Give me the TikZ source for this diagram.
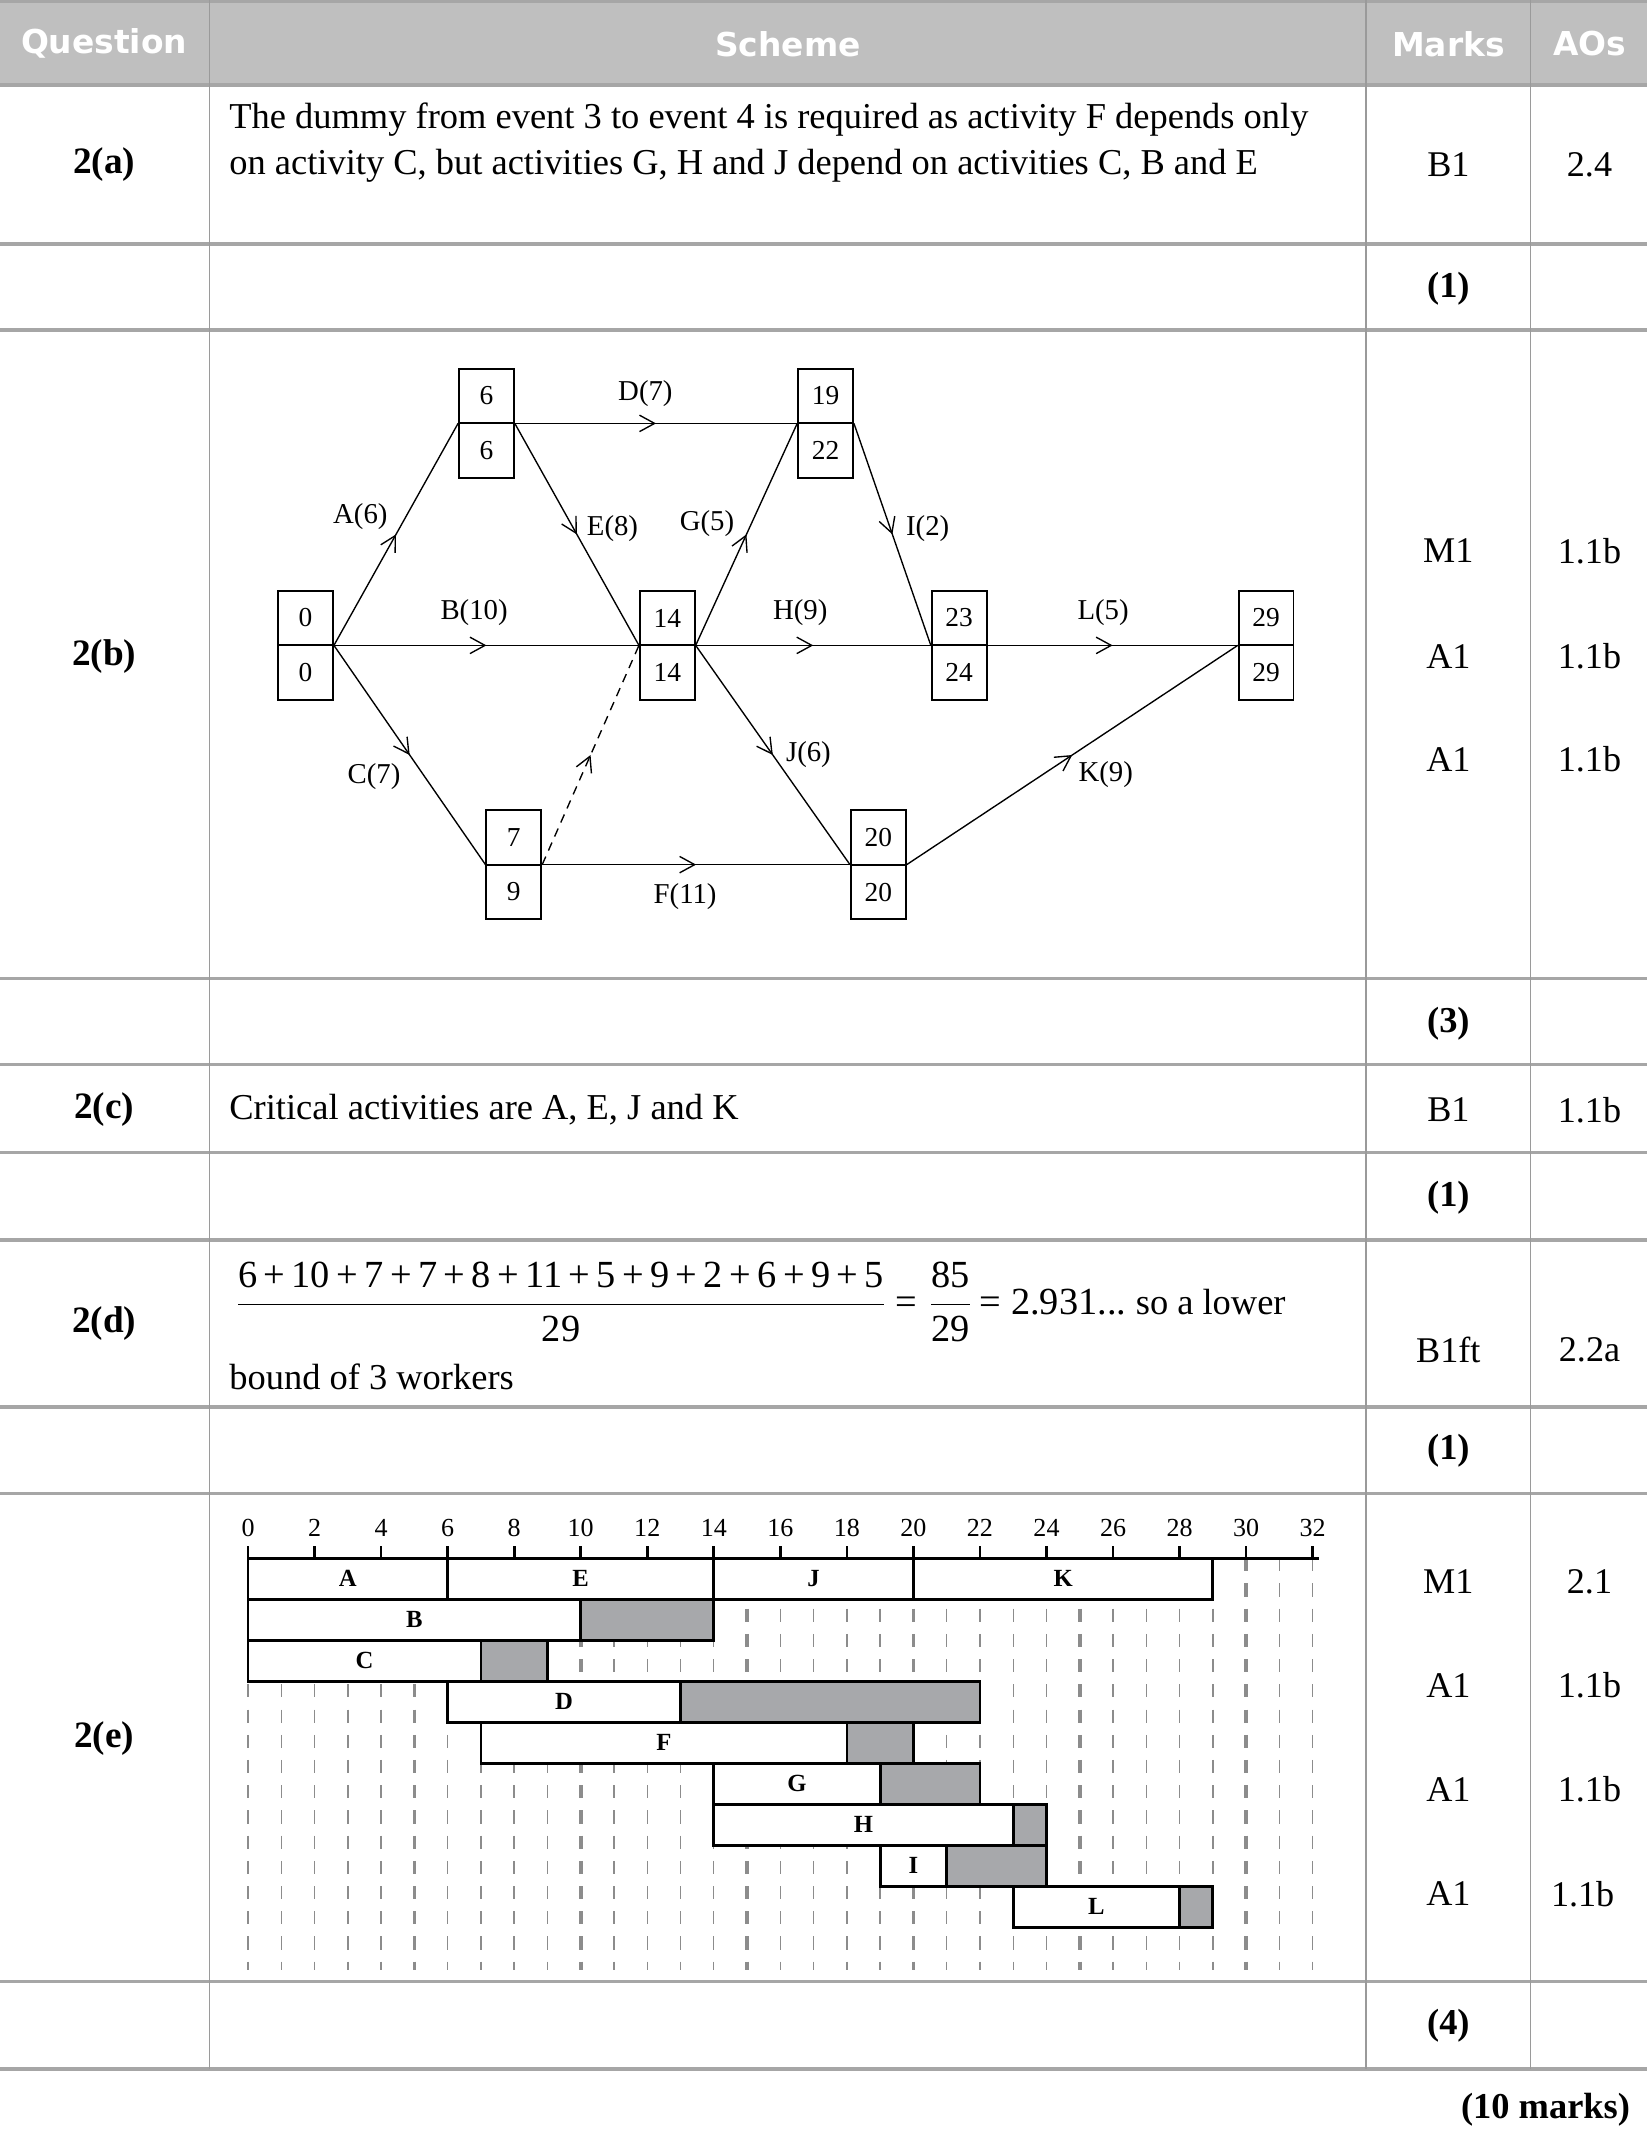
\documentclass[tikz,border=0pt]{standalone}
\usepackage{fontspec}
\setmainfont{Liberation Serif}
\newfontfamily\hdrfont{DejaVu Sans}
\usetikzlibrary{arrows.meta,decorations.markings}
\definecolor{hdrgrey}{HTML}{BFBFBF}
\definecolor{sepgrey}{HTML}{A6A6A6}
\definecolor{vgrey}{HTML}{9A9A9A}
\definecolor{floatgrey}{HTML}{A7A8AB}
\definecolor{gridgrey}{HTML}{8C8C8C}
\newcommand\evnode[5]{%
  \node[evbox] (#1) at (#2,#3) {};
  \draw[line width=0.7pt] (#1.west) -- (#1.east);
  \node[evnum] (#1t) at (#2,#3-20) {#4};
  \node[evnum] (#1b) at (#2,#3+20) {#5};}
\begin{document}
\begin{tikzpicture}[x=0.5pt,y=-0.5pt,
  hdr/.style={font=\hdrfont\bfseries\fontsize{12}{14}\selectfont, text=white, inner sep=0},
  body/.style={font=\fontsize{13.3}{17}\selectfont, anchor=west, inner sep=0, align=left},
  qlab/.style={font=\bfseries\fontsize{13.6}{15}\selectfont, inner sep=0},
  mk/.style={font=\fontsize{13.2}{15}\selectfont, inner sep=0},
  tot/.style={font=\bfseries\fontsize{13.3}{15}\selectfont, inner sep=0},
  sep/.style={draw=sepgrey, line width=1.3pt},
  vsep/.style={draw=vgrey, line width=0.6pt},
  evbox/.style={draw, line width=0.7pt, minimum width=20pt, minimum height=40pt, inner sep=0},
  evnum/.style={font=\fontsize{10}{12}\selectfont, inner sep=0},
  act/.style={line width=0.5pt, postaction={decorate},
    decoration={markings, mark=at position 0.5 with {\arrow{Straight Barb[length=5.5pt,width=6pt,line width=0.5pt]}}}},
  alab/.style={font=\fontsize{10.5}{12}\selectfont, inner sep=0},
  gridthin/.style={draw=gridgrey, line width=0.5pt, dash pattern=on 4.8pt off 4.4pt},
  gridthick/.style={draw=gridgrey, line width=1.3pt, dash pattern=on 4.8pt off 4.4pt},
  barst/.style={draw=black, line width=1pt},
  blab/.style={font=\bfseries\fontsize{9}{10}\selectfont, inner sep=0},
  ticklab/.style={font=\fontsize{9.5}{11}\selectfont, inner sep=0},
  axisst/.style={draw=black, line width=1pt}]
\useasboundingbox (0,0) rectangle (1202,1567.6);
% ---------- header ----------
\fill[hdrgrey] (0,0) rectangle (1202,62);
\draw[sep] (0,0.6) -- (1202,0.6);
\node[hdr] (hq) at (76,32) {Question};
\node[hdr] (hs) at (575,32) {Scheme};
\node[hdr] (hm) at (1057,32) {Marks};
\node[hdr] (ha) at (1160,32) {AOs};
% ---------- grid lines ----------
\foreach \yy in {62,178,241,714,777,841,905,1027,1090,1446,1510}
  \draw[sep] (0,\yy) -- (1202,\yy);
\foreach \xx in {153,997,1117}
  \draw[vsep] (\xx,0) -- (\xx,1510);
% ---------- 2(a) ----------
\node[qlab] (qa) at (76,120) {2(a)};
\node[body] (ta) at (167,104) {The dummy from event 3 to event 4 is required as activity F depends only\\on activity C, but activities G, H and J depend on activities C, B and E};
\node[mk] (ma) at (1057,120) {B1};
\node[mk] (aa) at (1160,120) {2.4};
\node[tot] (sa) at (1057,211) {(1)};
% ---------- 2(b) ----------
\node[qlab] (qb) at (76,479) {2(b)};
\node[mk] (mb1) at (1057,402) {M1};
\node[mk] (ab1) at (1160,402) {1.1b};
\node[mk] (mb2) at (1057,479) {A1};
\node[mk] (ab2) at (1160,479) {1.1b};
\node[mk] (mb3) at (1057,554) {A1};
\node[mk] (ab3) at (1160,554) {1.1b};
\node[tot] (sb) at (1057,747) {(3)};
% network
\evnode{n0}{223}{471}{0}{0}
\evnode{n6}{355}{309}{6}{6}
\evnode{n19}{602.5}{309}{19}{22}
\evnode{n14}{487}{471}{14}{14}
\evnode{n23}{700}{471}{23}{24}
\evnode{n29}{924}{471}{29}{29}
\evnode{n7}{375}{631}{7}{9}
\evnode{n20}{641}{631}{20}{20}
\draw[act] (n0.east) -- (n6.west);
\draw[act] (n0.east) -- (n14.west);
\draw[act] (n0.east) -- (n7.west);
\draw[act] (n6.east) -- (n19.west);
\draw[act] (n6.east) -- (n14.west);
\draw[act, dash pattern=on 3.2pt off 2.4pt] (n7.east) -- (n14.west);
\draw[act] (n7.east) -- (n20.west);
\draw[act] (n14.east) -- (n19.west);
\draw[act] (n14.east) -- (n23.west);
\draw[act] (n14.east) -- (n20.west);
\draw[act] (n19.east) -- (n23.west);
\draw[act] (n23.east) -- (n29.west);
\draw[act] (n20.east) -- (n29.west);
\node[alab] (lA) at (263,377) {A(6)};
\node[alab] (lB) at (346,447) {B(10)};
\node[alab] (lC) at (273,567) {C(7)};
\node[alab] (lD) at (471,287) {D(7)};
\node[alab] (lE) at (447,386) {E(8)};
\node[alab] (lF) at (500,654) {F(11)};
\node[alab] (lG) at (516,382) {G(5)};
\node[alab] (lH) at (584,447) {H(9)};
\node[alab] (lI) at (677,386) {I(2)};
\node[alab] (lJ) at (590,551) {J(6)};
\node[alab] (lK) at (807,565) {K(9)};
\node[alab] (lL) at (805,447) {L(5)};
% ---------- 2(c) ----------
\node[qlab] (qc) at (76,810) {2(c)};
\node[body] (tc) at (167,810) {Critical activities are A, E, J and K};
\node[mk] (mc) at (1057,810) {B1};
\node[mk] (ac) at (1160,810) {1.1b};
\node[tot] (sc) at (1057,874) {(1)};
% ---------- 2(d) ----------
\node[qlab] (qd) at (76,966) {2(d)};
\node[body] (td) at (171,950) {\fontsize{14}{16}\selectfont $\displaystyle\frac{\mbox{6\,+\,10\,+\,7\,+\,7\,+\,8\,+\,11\,+\,5\,+\,9\,+\,2\,+\,6\,+\,9\,+\,5}}{\mbox{29}}\mbox{\hspace{3pt}=\hspace{4pt}}\frac{\mbox{85}}{\mbox{29}}\mbox{\hspace{2.5pt}=\hspace{3.5pt}2.931...\ }\mbox{\fontsize{13.3}{15}\selectfont so a lower}$};
\node[body] (td2) at (167,1005) {bound of 3 workers};
\node[mk] (md) at (1057,985) {B1ft};
\node[mk] (ad) at (1160,985) {2.2a};
\node[tot] (sd) at (1057,1059) {(1)};
% ---------- 2(e) ----------
\node[qlab] (qe) at (76,1269) {2(e)};
\node[mk] (me1) at (1057,1154) {M1};
\node[mk] (ae1) at (1160,1154) {2.1};
\node[mk] (me2) at (1057,1230) {A1};
\node[mk] (ae2) at (1160,1230) {1.1b};
\node[mk] (me3) at (1057,1306) {A1};
\node[mk] (ae3) at (1160,1306) {1.1b};
\node[mk] (me4) at (1057,1382) {A1};
\node[mk] (ae4) at (1155,1382) {1.1b};
\node[tot] (se) at (1057,1478) {(4)};
\node[tot, anchor=east] (tm) at (1190,1540) {(10 marks)};
% Gantt chart
\begin{scope}[shift={(181,1137.2)}, x=12.14pt, y=-14.965pt]
  \foreach \t in {0,...,32}{
    \pgfmathtruncatemacro\m{mod(\t,5)}
    \ifnum\t>0 \ifnum\m=0
      \draw[gridthick] (\t,0) -- (\t,10.05);
    \else
      \draw[gridthin] (\t,0) -- (\t,10.05);
    \fi\else
      \draw[gridthin] (\t,0) -- (\t,10.05);
    \fi}
  % row 1
  \filldraw[barst, fill=white] (0,0) rectangle (6,1);
  \filldraw[barst, fill=white] (6,0) rectangle (14,1);
  \filldraw[barst, fill=white] (14,0) rectangle (20,1);
  \filldraw[barst, fill=white] (20,0) rectangle (29,1);
  \node[blab] (bA) at (3,0.5) {A};
  \node[blab] (bE) at (10,0.5) {E};
  \node[blab] (bJ) at (17,0.5) {J};
  \node[blab] (bK) at (24.5,0.5) {K};
  % row 2
  \filldraw[barst, fill=white] (0,1) rectangle (10,2);
  \filldraw[barst, fill=floatgrey] (10,1) rectangle (14,2);
  \node[blab] (bB) at (5,1.5) {B};
  % row 3
  \filldraw[barst, fill=white] (0,2) rectangle (7,3);
  \filldraw[barst, fill=floatgrey] (7,2) rectangle (9,3);
  \node[blab] (bC) at (3.5,2.5) {C};
  % row 4
  \filldraw[barst, fill=white] (6,3) rectangle (13,4);
  \filldraw[barst, fill=floatgrey] (13,3) rectangle (22,4);
  \node[blab] (bD) at (9.5,3.5) {D};
  % row 5
  \filldraw[barst, fill=white] (7,4) rectangle (18,5);
  \filldraw[barst, fill=floatgrey] (18,4) rectangle (20,5);
  \node[blab] (bF) at (12.5,4.5) {F};
  % row 6
  \filldraw[barst, fill=white] (14,5) rectangle (19,6);
  \filldraw[barst, fill=floatgrey] (19,5) rectangle (22,6);
  \node[blab] (bG) at (16.5,5.5) {G};
  % row 7
  \filldraw[barst, fill=white] (14,6) rectangle (23,7);
  \filldraw[barst, fill=floatgrey] (23,6) rectangle (24,7);
  \node[blab] (bH) at (18.5,6.5) {H};
  % row 8
  \filldraw[barst, fill=white] (19,7) rectangle (21,8);
  \filldraw[barst, fill=floatgrey] (21,7) rectangle (24,8);
  \node[blab] (bI) at (20,7.5) {I};
  % row 9
  \filldraw[barst, fill=white] (23,8) rectangle (28,9);
  \filldraw[barst, fill=floatgrey] (28,8) rectangle (29,9);
  \node[blab] (bL) at (25.5,8.5) {L};
  % axis
  \draw[axisst] (0,0) -- (32.2,0);
  \foreach \t in {0,2,...,32}{
    \draw[axisst] (\t,0) -- (\t,-0.3);
    \node[ticklab] (tk\t) at (\t,-0.74) {\t};}
\end{scope}
\end{tikzpicture}
\end{document}
